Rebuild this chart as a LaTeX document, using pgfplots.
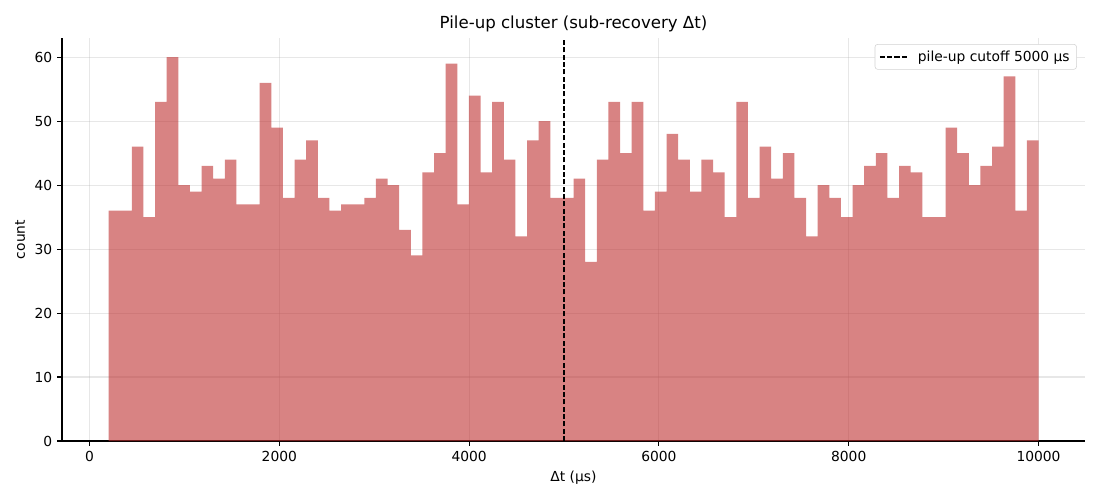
\documentclass[border=0pt]{standalone}
\usepackage{pgfplots}
\pgfplotsset{compat=1.18}
\usepackage{pgfplotstable}
\usepackage{fontspec}
\setmainfont{DejaVu Sans}
\definecolor{barc}{RGB}{190,48,48}
\definecolor{gridc}{RGB}{176,176,176}
\pgfplotstableread{
x y
200 36
322.5 36
445 46
567.5 35
690 53
812.5 60
935 40
1057.5 39
1180 43
1302.5 41
1425 44
1547.5 37
1670 37
1792.5 56
1915 49
2037.5 38
2160 44
2282.5 47
2405 38
2527.5 36
2650 37
2772.5 37
2895 38
3017.5 41
3140 40
3262.5 33
3385 29
3507.5 42
3630 45
3752.5 59
3875 37
3997.5 54
4120 42
4242.5 53
4365 44
4487.5 32
4610 47
4732.5 50
4855 38
4977.5 38
5100 41
5222.5 28
5345 44
5467.5 53
5590 45
5712.5 53
5835 36
5957.5 39
6080 48
6202.5 44
6325 39
6447.5 44
6570 42
6692.5 35
6815 53
6937.5 38
7060 46
7182.5 41
7305 45
7427.5 38
7550 32
7672.5 40
7795 38
7917.5 35
8040 40
8162.5 43
8285 45
8407.5 38
8530 43
8652.5 42
8775 35
8897.5 35
9020 49
9142.5 45
9265 40
9387.5 43
9510 46
9632.5 57
9755 36
9877.5 47
10000 47
}\histdata
\begin{document}
\begin{tikzpicture}
\path[use as bounding box] (-0.62in,-0.59in) rectangle (10.38in,4.41in);
\begin{axis}[
  at={(0,0)}, anchor=south west,
  scale only axis,
  width=10.23in, height=4.03in,
  xmin=-290, xmax=10490,
  ymin=0, ymax=63,
  axis x line*=bottom, axis y line*=left,
  axis line style={-, line width=0.8pt},
  xtick={0,2000,4000,6000,8000,10000},
  ytick={0,10,20,30,40,50,60},
  scaled ticks=false,
  tick align=outside,
  major tick length=3.5pt,
  tick style={line width=0.8pt, black},
  /pgf/number format/1000 sep={},
  /pgf/number format/assume math mode=true,
  ticklabel style={font=\fontsize{10}{12}\selectfont},
  grid=major,
  major grid style={line width=0.8pt, gridc, opacity=0.3},
  title={Pile-up cluster (sub-recovery Δt)},
  title style={font=\fontsize{12}{14}\selectfont, yshift=-5pt},
  xlabel={Δt (μs)},
  ylabel={count},
  label style={font=\fontsize{10}{12}\selectfont},
  legend style={at={(rel axis cs:0.992,0.985)}, anchor=north east,
    draw=gray!35, rounded corners=2pt, font=\fontsize{10}{12}\selectfont,
    inner xsep=3pt, inner ysep=2.5pt,
    /tikz/every odd column/.append style={column sep=5pt}},
  legend cell align=left,
  legend image code/.code={\draw[#1] (0pt,0pt) -- (20pt,0pt);},
]
\addplot[ybar interval, fill=barc, fill opacity=0.6, draw=none, forget plot] table[x=x,y=y] {\histdata};
\addplot[black, dash pattern=on 3.7pt off 1.6pt, line width=1pt] coordinates {(5000,0) (5000,63)};
\addlegendentry{pile-up cutoff 5000 μs}
\end{axis}
\end{tikzpicture}
\end{document}
